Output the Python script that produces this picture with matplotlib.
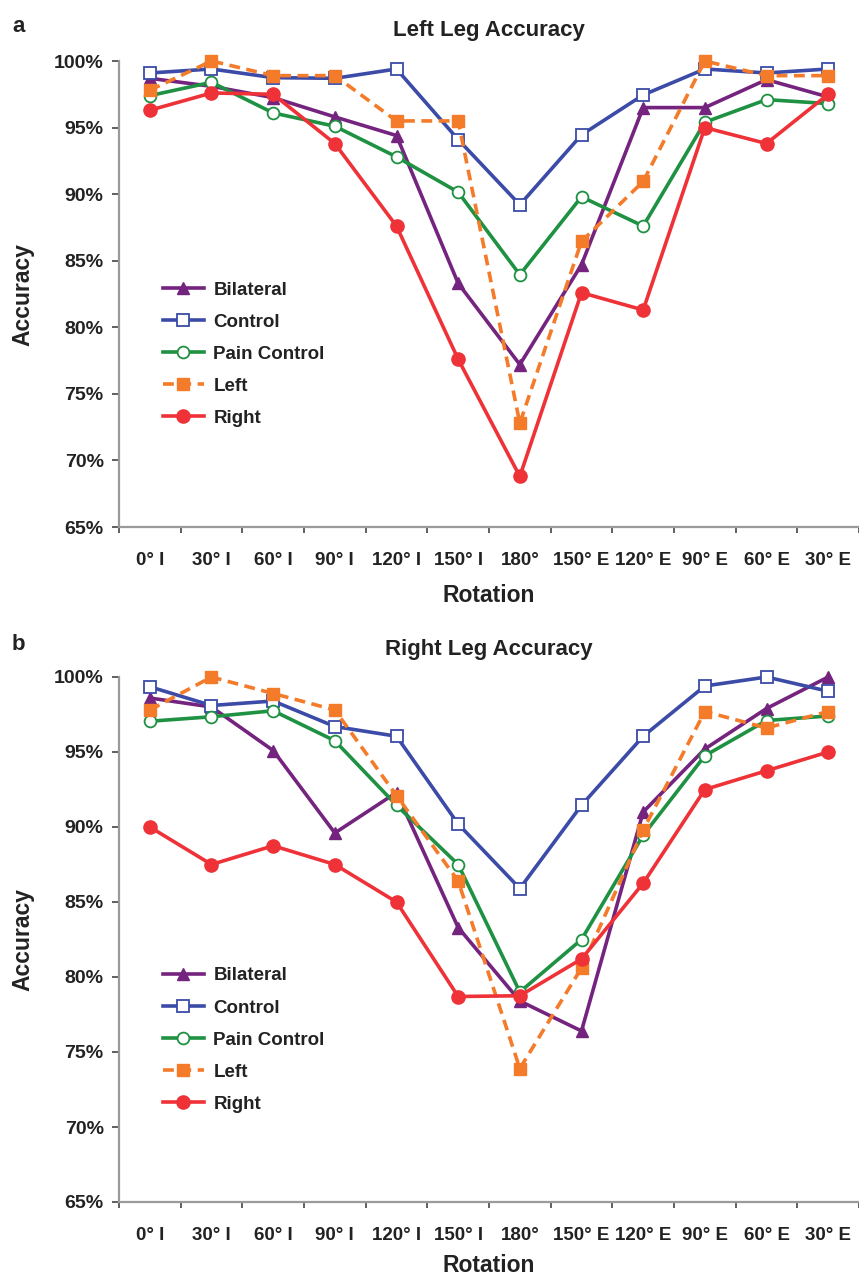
import matplotlib
matplotlib.use("Agg")
import matplotlib.pyplot as plt
from matplotlib.ticker import FixedLocator, FuncFormatter

plt.rcParams['font.family'] = ['Liberation Sans', 'DejaVu Sans']
plt.rcParams['font.weight'] = 'bold'

rotations = ["0° I", "30° I", "60° I", "90° I", "120° I", "150° I", "180°",
             "150° E", "120° E", "90° E", "60° E", "30° E"]
series_names = ["Bilateral", "Control", "Pain Control", "Left", "Right"]

# Panel a: Left Leg Accuracy (%)
left_bilateral = [98.7, 98.1, 97.25, 95.8, 94.4, 83.3, 77.2, 84.7, 96.5, 96.5, 98.6, 97.3]
left_control = [99.1, 99.4, 98.75, 98.7, 99.4, 94.1, 89.2, 94.45, 97.45, 99.4, 99.1, 99.4]
left_pain = [97.4, 98.4, 96.1, 95.1, 92.8, 90.15, 83.95, 89.8, 87.6, 95.4, 97.1, 96.8]
left_left = [97.8, 100.0, 98.9, 98.9, 95.5, 95.5, 72.8, 86.45, 90.95, 100.0, 98.9, 98.9]
left_right = [96.3, 97.6, 97.5, 93.8, 87.6, 77.6, 68.8, 82.6, 81.3, 95.0, 93.8, 97.5]

# Panel b: Right Leg Accuracy (%)
right_bilateral = [98.6, 98.0, 95.1, 89.6, 92.3, 83.3, 78.4, 76.4, 91.0, 95.2, 97.9, 100.0]
right_control = [99.35, 98.1, 98.4, 96.7, 96.05, 90.2, 85.9, 91.45, 96.05, 99.4, 100.0, 99.05]
right_pain = [97.05, 97.35, 97.75, 95.75, 91.45, 87.5, 79.0, 82.5, 89.45, 94.75, 97.1, 97.4]
right_left = [97.8, 100.0, 98.9, 97.8, 92.1, 86.4, 73.9, 80.6, 89.8, 97.7, 96.6, 97.7]
right_right = [90.0, 87.5, 88.75, 87.5, 85.0, 78.7, 78.75, 81.2, 86.25, 92.5, 93.75, 95.0]

yticks = [65, 70, 75, 80, 85, 90, 95, 100]

styles = {
    "Bilateral": dict(color="#74247F", marker="^", ms=8, mfc="#74247F", mec="#74247F", ls="-"),
    "Control": dict(color="#3B4BA7", marker="s", ms=9, mfc="white", mec="#3B4BA7", mew=1.3, ls="-"),
    "Pain Control": dict(color="#1E9142", marker="o", ms=8.5, mfc="white", mec="#1E9142", mew=1.3, ls="-"),
    "Left": dict(color="#F47B2A", marker="s", ms=8.5, mfc="#F47B2A", mec="#F47B2A", ls=(0, (3, 1.8))),
    "Right": dict(color="#EE3237", marker="o", ms=9.5, mfc="#EE3237", mec="#EE3237", ls="-"),
}

fig = plt.figure(figsize=(8.59, 12.83), dpi=100)
W, H = 859, 1283

def make_axes(top_px, bot_px):
    return fig.add_axes([119 / W, 1 - bot_px / H, 740 / W, (bot_px - top_px) / H])

ax_a = make_axes(61, 527)
ax_b = make_axes(677, 1202)

panels = [
    (ax_a, "Left Leg Accuracy", [left_bilateral, left_control, left_pain, left_left, left_right],
     0.527, 18, 11),
    (ax_b, "Right Leg Accuracy", [right_bilateral, right_control, right_pain, right_left, right_right],
     0.447, 16, 7),
]

x = list(range(len(rotations)))
for ax, title, data, leg_y, tpad, xlpad in panels:
    for name, vals in zip(series_names, data):
        st = styles[name]
        ax.plot(x, vals, color=st["color"], ls=st["ls"], lw=2.6, marker=st["marker"],
                ms=st["ms"], mfc=st["mfc"], mec=st["mec"], mew=st.get("mew", 1.0),
                label=name, clip_on=False)
    ax.set_xlim(-0.5, len(rotations) - 0.5)
    ax.set_ylim(65, 100)
    ax.set_yticks(yticks)
    ax.yaxis.set_major_formatter(FuncFormatter(lambda v, p: f"{int(v)}%"))
    ax.set_xticks(x)
    ax.set_xticklabels(rotations)
    ax.xaxis.set_minor_locator(FixedLocator([i - 0.5 for i in range(len(rotations) + 1)]))
    ax.tick_params(axis='x', which='major', length=0, pad=18, labelsize=13.5)
    ax.tick_params(axis='x', which='minor', length=4, width=1.2, color='#444444', direction='out')
    ax.tick_params(axis='y', which='major', length=5, width=1.2, color='#444444', labelsize=14, pad=6)
    for s in ['top', 'right']:
        ax.spines[s].set_visible(False)
    for s in ['left', 'bottom']:
        ax.spines[s].set_color('#9a9a9a')
        ax.spines[s].set_linewidth(1.6)
    for lbl in ax.get_xticklabels() + ax.get_yticklabels():
        lbl.set_fontweight('bold')
        lbl.set_color('#222222')
    ax.set_xlabel("Rotation", fontsize=16.5, fontweight='bold', labelpad=xlpad, color='#222222')
    ax.set_ylabel("Accuracy", fontsize=16.5, fontweight='bold', labelpad=14, color='#222222')
    ax.set_title(title, fontsize=16, fontweight='bold', pad=tpad, color='#222222')
    leg = ax.legend(loc='upper left', bbox_to_anchor=(0.059, leg_y), frameon=False,
                    prop=dict(weight='bold', size=13.5), handlelength=2.2,
                    labelspacing=0.8, handletextpad=0.5, borderaxespad=0, borderpad=0)
    for t in leg.get_texts():
        t.set_color('#222222')

fig.text(12 / W, 1 - 27 / H, "a", fontsize=16, fontweight='bold', va='center', ha='left', color='#222222')
fig.text(12 / W, 1 - 645 / H, "b", fontsize=16, fontweight='bold', va='center', ha='left', color='#222222')

fig.savefig("out.png", dpi=100)
